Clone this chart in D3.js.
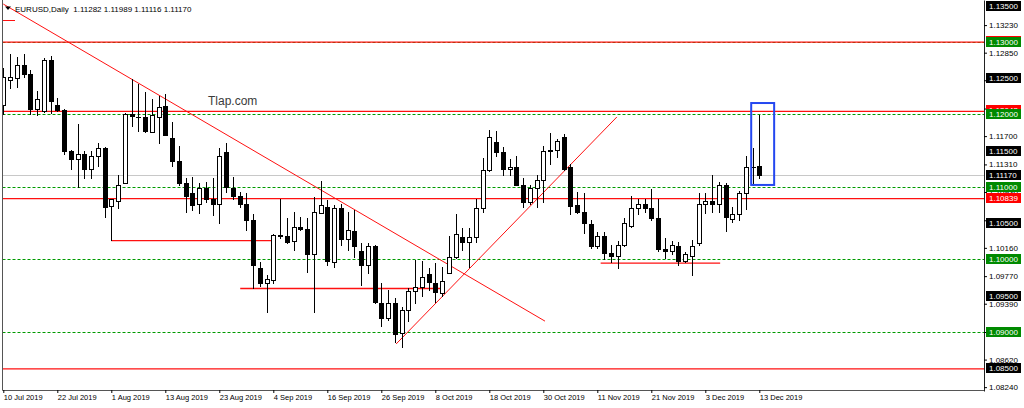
<!DOCTYPE html>
<html>
<head>
<meta charset="utf-8">
<script src="https://cdn.jsdelivr.net/npm/d3@7"></script>
<style>
  html, body { margin: 0; padding: 0; background: #fff; overflow: hidden; }
  svg { display: block; font-family: "Liberation Sans", Arial, sans-serif; }
</style>
</head>
<body>
<svg id="chart"></svg>
<script>
const W = 1024, H = 408

const SYMBOL = 'EURUSD,Daily'
const FIRST_DAY = '2019-07-10'
const LAST_DAY  = '2019-12-13'

// daily OHLC, one value per trading day
const open = [
  1.1213, 1.1248, 1.1250, 1.1268, 1.1256, 1.1208, 1.1204, 1.1275, 1.1213, 1.1206,
  1.1149, 1.1139, 1.1145, 1.1124, 1.1143, 1.1154, 1.1073, 1.1081, 1.1105, 1.1201,
  1.1197, 1.1197, 1.1176, 1.1197, 1.1212, 1.1168, 1.1136, 1.1105, 1.1092, 1.1076,
  1.1098, 1.1083, 1.1077, 1.1148, 1.1099, 1.1088, 1.1076, 1.1055, 1.0988, 1.0968,
  1.0972, 1.1034, 1.1033, 1.1025, 1.1045, 1.1042, 1.1008, 1.1064, 1.1072, 1.0997,
  1.1071, 1.1028, 1.1039, 1.1011, 1.0992, 1.1018, 1.0940, 1.0920, 1.0940, 1.0898,
  1.0931, 1.0957, 1.0962, 1.0980, 1.0968, 1.0954, 1.0982, 1.1004, 1.1031, 1.1024,
  1.1031, 1.1071, 1.1123, 1.1162, 1.1148, 1.1124, 1.1128, 1.1102, 1.1079, 1.1099,
  1.1110, 1.1151, 1.1151, 1.1169, 1.1127, 1.1075, 1.1066, 1.1049, 1.1018, 1.1032,
  1.1009, 1.1005, 1.1020, 1.1046, 1.1071, 1.1077, 1.1071, 1.1057, 1.1015, 1.1011,
  1.1019, 1.0998, 1.1005, 1.1023, 1.1077, 1.1080, 1.1076, 1.1103, 1.1056, 1.1063,
  1.1091, 1.1128, 1.11282
]
const high = [
  1.1264, 1.1283, 1.1279, 1.1283, 1.1261, 1.1232, 1.1277, 1.1280, 1.1223, 1.1208,
  1.1151, 1.1187, 1.1149, 1.1149, 1.1160, 1.1155, 1.1084, 1.1116, 1.1202, 1.1249,
  1.1242, 1.1231, 1.1221, 1.1225, 1.1228, 1.1189, 1.1157, 1.1112, 1.1113, 1.1105,
  1.1107, 1.1112, 1.1153, 1.1161, 1.1114, 1.1093, 1.1091, 1.1062, 1.0997, 1.0979,
  1.1035, 1.1083, 1.1057, 1.1066, 1.1059, 1.1057, 1.1086, 1.1108, 1.1082, 1.1075,
  1.1076, 1.1066, 1.1068, 1.1023, 1.1023, 1.1020, 1.0968, 1.0958, 1.0947, 1.0935,
  1.0961, 1.0999, 1.0998, 1.0988, 1.0995, 1.0990, 1.1032, 1.1062, 1.1043, 1.1043,
  1.1084, 1.1140, 1.1179, 1.1177, 1.1155, 1.1139, 1.1143, 1.1112, 1.1102, 1.1117,
  1.1156, 1.1174, 1.1166, 1.1173, 1.1132, 1.1093, 1.1091, 1.1054, 1.1038, 1.1038,
  1.1020, 1.1025, 1.1057, 1.1088, 1.1084, 1.1084, 1.1097, 1.1084, 1.1030, 1.1025,
  1.1024, 1.1010, 1.1027, 1.1091, 1.1092, 1.1116, 1.1107, 1.1106, 1.1072, 1.1095,
  1.1143, 1.1153, 1.11989
]
const low = [
  1.1201, 1.1237, 1.1238, 1.1251, 1.1201, 1.1199, 1.1203, 1.1202, 1.1204, 1.1146,
  1.1125, 1.1100, 1.1112, 1.1112, 1.1129, 1.1059, 1.1027, 1.1071, 1.1105, 1.1184,
  1.1177, 1.1176, 1.1175, 1.1161, 1.1171, 1.1129, 1.1102, 1.1065, 1.1068, 1.1064,
  1.1079, 1.1061, 1.1050, 1.1093, 1.1083, 1.1072, 1.1040, 1.0961, 1.0963, 1.0927,
  1.0968, 1.1030, 1.1023, 1.1013, 1.1040, 1.0983, 1.0927, 1.1064, 1.0992, 1.0989,
  1.1020, 1.1013, 1.1004, 1.0965, 1.0982, 1.0940, 1.0908, 1.0917, 1.0886, 1.0879,
  1.0915, 1.0940, 1.0949, 1.0958, 1.0941, 1.0949, 1.0982, 1.1002, 1.1013, 1.0990,
  1.1024, 1.1066, 1.1122, 1.1143, 1.1117, 1.1116, 1.1102, 1.1072, 1.1077, 1.1072,
  1.1079, 1.1132, 1.1141, 1.1123, 1.1062, 1.1064, 1.1036, 1.1016, 1.1016, 1.1001,
  1.0997, 1.0988, 1.1019, 1.1045, 1.1062, 1.1066, 1.1054, 1.1011, 1.1002, 1.1008,
  1.0992, 1.0997, 1.0979, 1.1020, 1.1064, 1.1065, 1.1066, 1.1039, 1.1052, 1.1054,
  1.1069, 1.1102, 1.11116
]
const close = [
  1.1251, 1.1251, 1.1268, 1.1255, 1.1208, 1.1221, 1.1275, 1.1218, 1.1206, 1.1149,
  1.1138, 1.1146, 1.1124, 1.1143, 1.1154, 1.1072, 1.1084, 1.1103, 1.1201, 1.1198,
  1.1196, 1.1177, 1.1199, 1.1210, 1.1172, 1.1136, 1.1105, 1.1088, 1.1075, 1.1099,
  1.1083, 1.1077, 1.1143, 1.1100, 1.1088, 1.1076, 1.1054, 1.0992, 1.0968, 1.0973,
  1.1034, 1.1033, 1.1024, 1.1045, 1.1042, 1.1008, 1.1065, 1.1075, 1.0998, 1.1071,
  1.1028, 1.1040, 1.1019, 1.0993, 1.1019, 1.0942, 1.0920, 1.0940, 1.0897, 1.0931,
  1.0957, 1.0962, 1.0976, 1.0969, 1.0955, 1.0970, 1.1004, 1.1035, 1.1024, 1.1031,
  1.1071, 1.1123, 1.1169, 1.1148, 1.1124, 1.1127, 1.1103, 1.1079, 1.1098, 1.1110,
  1.1150, 1.1149, 1.1163, 1.1125, 1.1074, 1.1066, 1.1050, 1.1018, 1.1032, 1.1009,
  1.1005, 1.1020, 1.1050, 1.1071, 1.1077, 1.1071, 1.1057, 1.1015, 1.1012, 1.1020,
  1.0998, 1.1008, 1.1018, 1.1077, 1.1080, 1.1077, 1.1103, 1.1059, 1.1063, 1.1091,
  1.1128, 1.1127, 1.11170
]

const dateTicks = [
  '2019-07-10', '2019-07-22', '2019-08-01', '2019-08-13', '2019-08-23',
  '2019-09-04', '2019-09-16', '2019-09-26', '2019-10-08', '2019-10-18',
  '2019-10-30', '2019-11-11', '2019-11-21', '2019-12-03', '2019-12-13'
]
const priceTicks = [
  1.1323, 1.1285, 1.1247, 1.1208, 1.1170, 1.1131, 1.1093,
  1.1054, 1.1016, 1.0977, 1.0939, 1.0900, 1.0862, 1.0824
]

// price levels drawn on the chart, with their axis labels
const redLevels   = [1.12995, 1.12042, 1.10839, 1.08493]
const greenLevels = [1.1300, 1.1200, 1.1100, 1.1000, 1.0900]
const blackLevels = [1.1350, 1.1250, 1.1150, 1.1050, 1.0950, 1.0850]
const bid = 1.11170

// drawn objects: [bar index, price]
const downTrend = [[0, 1.1352], [80.25, 1.0915]]
const upTrend   = [[58.2, 1.08835], [90.9, 1.11964]]
const supportFrom  = [16, 35.1, 88.5]
const supportTo    = [39.8, 65, 106.2]
const supportPrice = [1.1026, 1.0960, 1.0995]
const boxBars   = [110.8, 114.2]
const boxPrices = [1.12156, 1.11027]

const PRICE_LOW = 1.08187, PRICE_HIGH = 1.13576

const PLOT_L = 2.5, PLOT_R = 984, PLOT_B = 390.5
const RED = '#ff1010', GREEN = '#009a00'

const parse = d3.utcParse('%Y-%m-%d')
const fmtDate = d3.utcFormat('%-d %b %Y')
const days = d3.utcDay.range(parse(FIRST_DAY), d3.utcDay.offset(parse(LAST_DAY), 1))
  .filter(d => d.getUTCDay() % 6 !== 0)

const xi = d3.scaleLinear().domain([0, days.length - 1]).range([3.3, 759.3])
const y  = d3.scaleLinear().domain([PRICE_LOW, PRICE_HIGH]).range([391, 0])
const px = i => Math.round(xi(i)) + 0.5
const py = p => Math.round(y(p)) + 0.5

const svg = d3.select('#chart').attr('width', W).attr('height', H)
svg.append('rect').attr('width', W).attr('height', H).attr('fill', '#fff')

svg.append('clipPath').attr('id', 'plot')
  .append('rect').attr('x', PLOT_L).attr('y', 0)
  .attr('width', PLOT_R - PLOT_L).attr('height', PLOT_B)

const plot = svg.append('g').attr('clip-path', 'url(#plot)')

// bid line
plot.append('line')
  .attr('x1', PLOT_L).attr('x2', PLOT_R)
  .attr('y1', py(bid)).attr('y2', py(bid))
  .attr('stroke', '#c8c8c8')

// round-number levels, dashed green
plot.append('g').selectAll('line')
  .data(greenLevels)
  .join('line')
    .attr('x1', PLOT_L).attr('x2', PLOT_R)
    .attr('y1', d => py(d)).attr('y2', d => py(d))
    .attr('stroke', GREEN)
    .attr('stroke-dasharray', '3,2')

// red horizontal levels
plot.append('g').selectAll('line')
  .data(redLevels)
  .join('line')
    .attr('x1', PLOT_L).attr('x2', PLOT_R)
    .attr('y1', d => y(d)).attr('y2', d => y(d))
    .attr('stroke', RED)
    .attr('stroke-width', 1.3)

// short support segments
plot.append('g').selectAll('line')
  .data(supportPrice)
  .join('line')
    .attr('x1', (d, k) => xi(supportFrom[k]))
    .attr('x2', (d, k) => xi(supportTo[k]))
    .attr('y1', d => y(d)).attr('y2', d => y(d))
    .attr('stroke', RED)
    .attr('stroke-width', 1.3)

// trend lines
plot.append('g').selectAll('line')
  .data([downTrend, upTrend])
  .join('line')
    .attr('x1', d => xi(d[0][0])).attr('y1', d => y(d[0][1]))
    .attr('x2', d => xi(d[1][0])).attr('y2', d => y(d[1][1]))
    .attr('stroke', RED)

// candles
const bars = d3.range(days.length)
plot.append('g').selectAll('line')
  .data(bars)
  .join('line')
    .attr('x1', px).attr('x2', px)
    .attr('y1', i => Math.round(y(high[i])))
    .attr('y2', i => Math.round(y(low[i])) + 1)
    .attr('stroke', '#000')

const bodyTop = i => Math.round(y(Math.max(open[i], close[i])))
const bodyBot = i => Math.round(y(Math.min(open[i], close[i])))

plot.append('g').selectAll('rect')
  .data(bars.filter(i => close[i] < open[i]))
  .join('rect')
    .attr('x', i => Math.round(xi(i)) - 2)
    .attr('y', bodyTop)
    .attr('width', 5)
    .attr('height', i => Math.max(1, bodyBot(i) - bodyTop(i) + 1))
    .attr('fill', '#000')

plot.append('g').selectAll('rect')
  .data(bars.filter(i => close[i] >= open[i]))
  .join('rect')
    .attr('x', i => Math.round(xi(i)) - 1.5)
    .attr('y', i => bodyTop(i) + 0.5)
    .attr('width', 4)
    .attr('height', i => Math.max(0, bodyBot(i) - bodyTop(i)))
    .attr('fill', '#fff')
    .attr('stroke', '#000')

// highlight box on the last bars
plot.append('rect')
  .attr('x', xi(boxBars[0])).attr('y', y(boxPrices[0]))
  .attr('width', xi(boxBars[1]) - xi(boxBars[0]))
  .attr('height', y(boxPrices[1]) - y(boxPrices[0]))
  .attr('fill', 'none')
  .attr('stroke', '#2447f0')
  .attr('stroke-width', 2)

svg.append('text')
  .attr('x', 208).attr('y', 105)
  .attr('font-size', '12px')
  .attr('fill', '#3a3a3a')
  .text('Tlap.com')

// frame
svg.append('path')
  .attr('d', `M${PLOT_L},0V${PLOT_B}H${PLOT_R + 0.5}`)
  .attr('fill', 'none')
  .attr('stroke', '#555')

// price axis
svg.append('g')
  .attr('transform', `translate(${PLOT_R},0)`)
  .call(d3.axisRight(y).tickValues(priceTicks).tickFormat(d3.format('.5f'))
    .tickSize(3).tickPadding(2).tickSizeOuter(0))
  .call(g => g.attr('font-family', null).attr('font-size', 8))
  .call(g => g.select('.domain').attr('stroke', '#222'))

function levelLabel(levels, fill, shift) {
  const g = svg.append('g').selectAll('g')
    .data(levels)
    .join('g')
      .attr('transform', d => `translate(986,${Math.round(y(d)) + shift})`)
  g.append('rect')
    .attr('y', -5).attr('width', 35).attr('height', 10)
    .attr('fill', fill)
  g.append('text')
    .attr('x', 3).attr('y', 3)
    .attr('font-size', '8px')
    .attr('fill', '#fff')
    .text(d3.format('.5f'))
}
levelLabel(redLevels, '#ff0000', -1)
levelLabel(blackLevels.concat([bid]), '#000', 0)
levelLabel(greenLevels, '#008a00', 0)

// time axis
const tickIdx = dateTicks.map(s => days.findIndex(d => +d === +parse(s)))
svg.append('g')
  .attr('transform', `translate(0,${PLOT_B - 0.5})`)
  .call(d3.axisBottom(xi).tickValues(tickIdx).tickFormat(i => fmtDate(days[i]))
    .tickSize(3).tickPadding(2))
  .call(g => g.select('.domain').remove())
  .call(g => g.attr('font-family', null).attr('font-size', 7.5))
  .call(g => g.selectAll('text').attr('text-anchor', 'start').attr('x', 0))

// header
svg.append('path')
  .attr('d', 'M5,6.5h6l-3,3.5z')
  .attr('fill', '#000')
svg.append('line')
  .attr('x1', 3).attr('x2', 15).attr('y1', 20.5).attr('y2', 20.5)
  .attr('stroke', RED)
svg.append('text')
  .attr('x', 15).attr('y', 12)
  .attr('font-size', '8px')
  .attr('fill', '#000')
  .attr('xml:space', 'preserve')
  .text(`${SYMBOL}  ${d3.format('.5f')(open[open.length - 1])} ${d3.format('.5f')(high[high.length - 1])} ${d3.format('.5f')(low[low.length - 1])} ${d3.format('.5f')(close[close.length - 1])}`)
</script>
</body>
</html>
